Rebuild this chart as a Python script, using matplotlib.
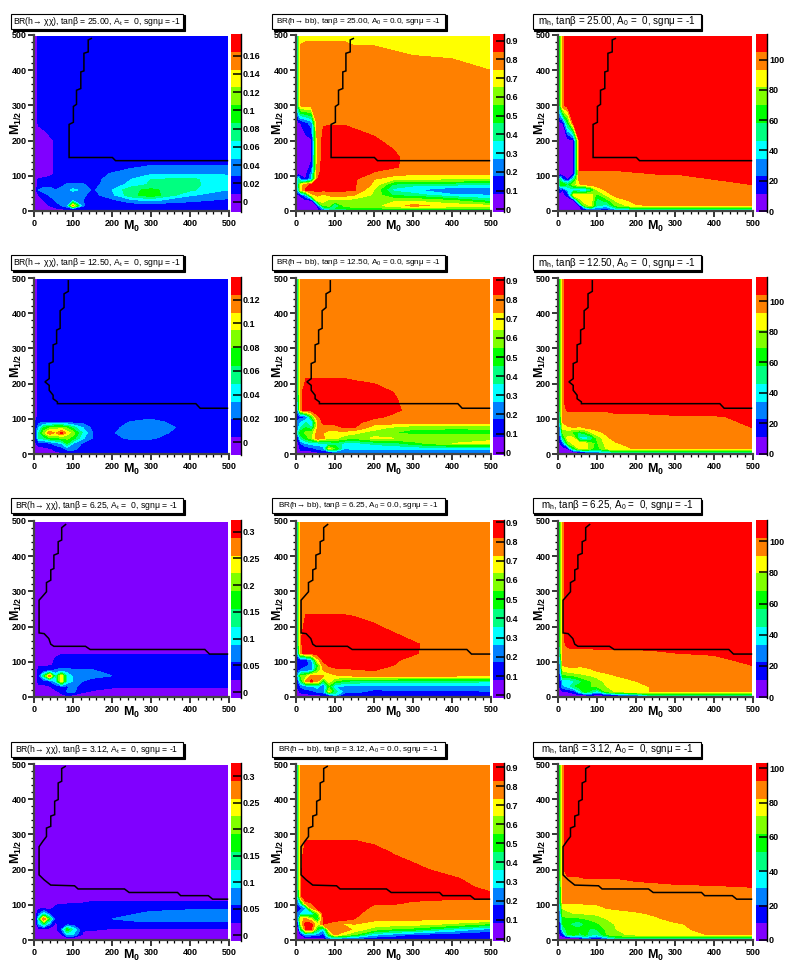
import matplotlib
matplotlib.use('Agg')
import matplotlib.pyplot as plt
from matplotlib.patches import Rectangle
import numpy as np

plt.rcParams['font.family'] = ['Liberation Sans', 'DejaVu Sans']
plt.rcParams['mathtext.fontset'] = 'custom'
plt.rcParams['mathtext.rm'] = 'Liberation Sans'
plt.rcParams['mathtext.it'] = 'Liberation Sans'
plt.rcParams['mathtext.bf'] = 'Liberation Sans:bold'

W, H = 789, 974

# grid the maps were read on (M0 across, M1/2 down, top row first)
m0 = [0, 6, 12, 25, 40, 55, 70, 85, 100, 125, 150, 200, 250, 300, 400, 497]
m12 = [497, 400, 300, 250, 200, 175, 150, 125, 105, 90, 75, 60, 45, 30, 15, 6, 0]

# map values as position on the colour scale, in tenths of a band (0-100)
chi_25 = [
    [5, 8, 13, 15, 15, 15, 15, 15, 15, 15, 15, 15, 15, 15, 15, 15],
    [5, 8, 13, 15, 15, 15, 15, 15, 15, 15, 15, 15, 15, 15, 15, 15],
    [5, 8, 13, 15, 15, 15, 15, 15, 15, 15, 15, 15, 15, 15, 15, 15],
    [5, 8, 11, 13, 15, 15, 15, 15, 15, 15, 15, 15, 15, 15, 15, 15],
    [5, 5, 5, 5, 8, 11, 15, 15, 15, 15, 15, 15, 15, 15, 15, 15],
    [5, 5, 5, 5, 8, 11, 15, 15, 15, 15, 15, 15, 15, 15, 15, 15],
    [5, 5, 5, 5, 8, 11, 15, 15, 15, 15, 15, 15, 15, 15, 15, 15],
    [5, 5, 5, 5, 8, 11, 15, 15, 15, 15, 15, 15, 19, 21, 21, 21],
    [5, 5, 5, 5, 8, 11, 15, 15, 15, 15, 15, 21, 24, 29, 30, 29],
    [5, 8, 11, 12, 12, 13, 15, 15, 15, 15, 17, 23, 30, 40, 42, 34],
    [5, 7, 12, 15, 17, 17, 18, 21, 22, 21, 17, 25, 33, 42, 43, 32],
    [5, 10, 20, 25, 23, 20, 22, 28, 32, 28, 18, 30, 48, 52, 42, 30],
    [5, 6, 10, 15, 21, 23, 24, 22, 24, 22, 16, 27, 47, 56, 31, 24],
    [5, 5, 8, 10, 13, 21, 24, 25, 30, 20, 14, 17, 26, 32, 22, 18],
    [5, 5, 5, 7, 10, 14, 20, 27, 82, 22, 13, 13, 13, 13, 14, 13],
    [5, 5, 5, 5, 6, 8, 10, 11, 12, 12, 12, 12, 12, 12, 12, 12],
    [5, 5, 5, 5, 5, 5, 5, 5, 5, 5, 5, 5, 5, 5, 5, 5],
]
bb_25 = [
    [12, 55, 79, 79, 79, 79, 79, 79, 79, 79, 78, 78, 77, 76, 76, 75],
    [12, 55, 83, 85, 85, 85, 85, 85, 85, 85, 85, 85, 84, 83, 82, 80],
    [12, 55, 82, 85, 85, 85, 85, 85, 85, 85, 85, 85, 85, 85, 85, 85],
    [5, 8, 10, 16, 25, 88, 89.5, 89.5, 89.5, 89.5, 89, 87, 86, 85, 85, 85],
    [5, 5, 5, 7, 8, 85, 92, 93, 93, 93, 92, 91, 88, 86, 85, 85],
    [5, 5, 5, 6, 8, 85, 93, 93, 94, 94, 94, 92, 90, 87, 85, 85],
    [5, 5, 5, 6, 9, 85, 93, 93, 94, 94, 94, 93, 91, 88, 85, 85],
    [5, 5, 5, 6, 12, 86, 93, 93, 94, 94, 93, 92, 91, 87, 84, 84],
    [5, 5, 5, 7, 25, 88, 93, 94, 94, 94, 93, 89, 84, 81, 81, 81],
    [10, 45, 20, 10, 30, 90, 94, 94, 94, 93, 91, 80, 72, 70, 69, 68],
    [10, 45, 75, 85, 92, 94, 94, 93, 90, 90, 91, 78, 48, 43, 42, 40],
    [8, 35, 75, 92, 93, 93, 93, 93, 92, 92, 91, 70, 37, 31, 20, 19],
    [5, 8, 12, 30, 75, 82, 77, 82, 86, 83, 80, 68, 48, 45, 32, 30],
    [5, 5, 5, 6, 9, 72, 75, 65, 68, 68, 65, 62, 68, 68, 60, 45],
    [5, 5, 5, 5, 6, 8, 62, 62, 32, 64, 65, 66, 75, 83, 76, 72],
    [5, 5, 5, 5, 5, 6, 30, 42, 50, 52, 54, 56, 58, 60, 60, 60],
    [5, 5, 5, 5, 5, 5, 6, 7, 8, 8, 8, 8, 8, 8, 8, 8],
]
mh_25 = [
    [30, 55, 88, 95, 95, 95, 95, 95, 95, 95, 95, 95, 95, 95, 95, 95],
    [30, 55, 88, 95, 95, 95, 95, 95, 95, 95, 95, 95, 95, 95, 95, 95],
    [30, 55, 88, 95, 95, 95, 95, 95, 95, 95, 95, 95, 95, 95, 95, 95],
    [5, 8, 9, 50, 93, 95, 95, 95, 95, 95, 95, 95, 95, 95, 95, 95],
    [5, 5, 5, 5, 7, 92, 95, 95, 95, 95, 95, 95, 95, 95, 95, 95],
    [5, 5, 5, 5, 7, 92, 95, 95, 95, 95, 95, 95, 95, 95, 95, 95],
    [5, 5, 5, 5, 7, 92, 95, 95, 95, 95, 95, 95, 95, 95, 95, 95],
    [5, 5, 5, 5, 7, 92, 92, 92, 92, 92, 92, 93, 93, 94, 95, 95],
    [5, 5, 5, 6, 8, 88, 88, 88, 88, 88, 88, 89, 90, 90, 92, 94],
    [8, 45, 20, 8, 40, 85, 87, 87, 87, 87, 87, 87, 87, 88, 90, 92],
    [8, 55, 60, 48, 65, 78, 83, 85, 86, 87, 87, 87, 87, 87, 88, 90],
    [8, 15, 10, 30, 35, 30, 25, 45, 70, 83, 86, 87, 87, 87, 87, 87],
    [5, 6, 8, 12, 74, 78, 78, 75, 55, 72, 85, 87, 87, 87, 87, 87],
    [5, 5, 5, 5, 8, 65, 76, 74, 45, 55, 72, 85, 87, 87, 87, 87],
    [5, 5, 5, 5, 6, 9, 65, 72, 40, 35, 62, 78, 81, 81, 81, 81],
    [5, 5, 5, 5, 5, 6, 20, 30, 22, 18, 35, 45, 48, 50, 50, 50],
    [5, 5, 5, 5, 5, 5, 5, 6, 8, 11, 12, 14, 15, 15, 15, 15],
]
chi_12 = [
    [5, 8, 14, 15, 15, 15, 15, 15, 15, 15, 15, 15, 15, 15, 15, 15],
    [5, 8, 14, 15, 15, 15, 15, 15, 15, 15, 15, 15, 15, 15, 15, 15],
    [5, 8, 14, 15, 15, 15, 15, 15, 15, 15, 15, 15, 15, 15, 15, 15],
    [5, 8, 14, 15, 15, 15, 15, 15, 15, 15, 15, 15, 15, 15, 15, 15],
    [5, 8, 14, 15, 15, 15, 15, 15, 15, 15, 15, 15, 15, 15, 15, 15],
    [5, 8, 14, 15, 15, 15, 15, 15, 15, 15, 15, 15, 15, 15, 15, 15],
    [5, 8, 14, 15, 15, 15, 15, 15, 15, 15, 15, 15, 15, 15, 15, 15],
    [5, 8, 14, 15, 15, 15, 15, 15, 15, 15, 15, 15, 15, 15, 15, 15],
    [5, 8, 14, 15, 15, 15, 15, 15, 15, 15, 15, 15, 15, 18, 15, 14],
    [8, 12, 18, 19, 19, 18, 18, 17, 16, 16, 15, 15, 21, 23, 15, 14],
    [6, 14, 30, 50, 58, 65, 65, 58, 45, 30, 17, 17, 24, 25, 17, 14],
    [7, 20, 40, 65, 88, 78, 93, 75, 65, 38, 20, 19, 25, 24, 15, 14],
    [6, 18, 40, 45, 55, 58, 60, 62, 55, 32, 20, 17, 22, 21, 14, 14],
    [5, 10, 13, 14, 18, 25, 30, 50, 30, 18, 15, 15, 15, 15, 14, 14],
    [5, 8, 8, 8, 9, 12, 15, 24, 25, 14, 14, 14, 14, 14, 14, 14],
    [5, 6, 7, 7, 8, 9, 11, 14, 15, 13, 13, 13, 13, 13, 13, 13],
    [5, 5, 5, 5, 5, 5, 5, 5, 5, 5, 5, 5, 5, 5, 5, 5],
]
bb_12 = [
    [12, 55, 82, 85, 85, 85, 85, 85, 85, 85, 85, 85, 85, 85, 85, 85],
    [12, 55, 82, 85, 85, 85, 85, 85, 85, 85, 85, 85, 85, 85, 85, 85],
    [12, 55, 82, 85, 85, 85, 85, 85, 85, 85, 85, 85, 85, 85, 85, 85],
    [12, 55, 82, 85, 85, 85, 85, 85, 85, 85, 85, 85, 85, 85, 85, 85],
    [12, 55, 82, 92, 92, 92, 92, 92, 92, 92, 91, 90, 87, 85, 85, 85],
    [12, 50, 88, 95, 95, 95, 95, 95, 95, 94, 94, 92, 90, 86, 85, 85],
    [12, 45, 88, 95, 95, 95, 95, 95, 95, 95, 95, 94, 91, 87, 84, 84],
    [12, 35, 88, 95, 95, 95, 95, 95, 95, 95, 94, 93, 92, 87, 84, 84],
    [11, 14, 16, 18, 55, 88, 93, 94, 94, 94, 94, 92, 88, 85, 84, 84],
    [12, 25, 30, 40, 30, 78, 93, 94, 94, 94, 93, 85, 85, 84, 83, 83],
    [12, 30, 40, 50, 38, 80, 84, 86, 85, 91, 90, 75, 68, 62, 62, 62],
    [8, 40, 55, 62, 65, 84, 80, 75, 77, 75, 72, 65, 60, 56, 54, 55],
    [6, 18, 42, 55, 65, 90, 82, 70, 72, 65, 62, 72, 70, 70, 70, 68],
    [5, 8, 20, 30, 35, 35, 38, 40, 45, 37, 36, 42, 45, 55, 70, 72],
    [5, 5, 12, 14, 15, 22, 25, 72, 60, 30, 32, 33, 32, 32, 32, 31],
    [5, 5, 7, 7, 8, 10, 15, 16, 25, 22, 22, 22, 22, 22, 22, 22],
    [5, 5, 5, 5, 5, 5, 7, 8, 10, 12, 12, 12, 12, 12, 12, 12],
]
mh_12 = [
    [30, 55, 88, 95, 95, 95, 95, 95, 95, 95, 95, 95, 95, 95, 95, 95],
    [30, 55, 88, 95, 95, 95, 95, 95, 95, 95, 95, 95, 95, 95, 95, 95],
    [30, 55, 88, 95, 95, 95, 95, 95, 95, 95, 95, 95, 95, 95, 95, 95],
    [30, 55, 88, 95, 95, 95, 95, 95, 95, 95, 95, 95, 95, 95, 95, 95],
    [30, 55, 88, 95, 95, 95, 95, 95, 95, 95, 95, 95, 95, 95, 95, 95],
    [30, 55, 88, 95, 95, 95, 95, 95, 95, 95, 95, 95, 95, 95, 95, 95],
    [30, 55, 88, 95, 95, 95, 95, 95, 95, 95, 95, 95, 95, 95, 95, 95],
    [30, 55, 87, 91, 91, 91, 91, 91, 91, 91, 92, 92, 93, 93, 94, 95],
    [25, 50, 85, 87, 87, 87, 87, 87, 87, 87, 88, 88, 88, 89, 89, 92],
    [20, 45, 80, 85, 86, 86, 86, 86, 86, 86, 86, 86, 86, 87, 88, 91],
    [15, 30, 75, 78, 80, 78, 82, 84, 85, 86, 86, 86, 86, 86, 87, 90],
    [12, 25, 60, 62, 55, 48, 55, 68, 76, 82, 86, 86, 86, 86, 87, 89],
    [10, 18, 45, 75, 72, 35, 30, 40, 62, 78, 84, 86, 86, 86, 86, 88],
    [8, 10, 15, 60, 75, 76, 74, 62, 58, 75, 79, 84, 85, 85, 85, 85],
    [5, 6, 7, 9, 50, 72, 74, 62, 55, 72, 76, 81, 82, 82, 82, 82],
    [5, 5, 5, 5, 8, 12, 20, 30, 30, 35, 48, 50, 50, 50, 50, 50],
    [5, 5, 5, 5, 5, 5, 8, 10, 12, 15, 20, 22, 25, 25, 25, 25],
]
chi_6 = [
    [5, 5, 5, 5, 5, 5, 5, 5, 5, 5, 5, 5, 5, 5, 5, 5],
    [5, 5, 5, 5, 5, 5, 5, 5, 5, 5, 5, 5, 5, 5, 5, 5],
    [5, 5, 5, 5, 5, 5, 5, 5, 5, 5, 5, 5, 5, 5, 5, 5],
    [5, 5, 5, 5, 5, 5, 5, 5, 5, 5, 5, 5, 5, 5, 5, 5],
    [5, 5, 5, 5, 5, 5, 5, 5, 5, 5, 5, 5, 5, 5, 5, 5],
    [5, 5, 5, 5, 5, 5, 5, 5, 5, 5, 5, 5, 5, 5, 5, 5],
    [5, 5, 5, 5, 5, 5, 5, 5, 5, 5, 5, 5, 5, 5, 5, 5],
    [5, 5, 5, 5, 5, 8, 9, 9, 9, 9, 9, 9, 9, 9, 9, 9],
    [5, 5, 5, 5, 7, 11, 14, 14, 14, 14, 14, 14, 14, 14, 14, 14],
    [5, 5, 8, 8, 9, 11, 14, 14, 14, 14, 14, 14, 14, 14, 14, 14],
    [5, 5, 15, 16, 18, 22, 25, 24, 22, 21, 21, 15, 14, 14, 14, 14],
    [5, 7, 17, 45, 90, 38, 75, 38, 28, 24, 24, 20, 14, 14, 14, 14],
    [5, 7, 14, 15, 19, 32, 78, 38, 30, 20, 15, 14, 14, 14, 14, 14],
    [5, 5, 7, 7, 9, 14, 18, 18, 24, 14, 13, 12, 11, 11, 11, 11],
    [5, 5, 5, 5, 5, 8, 11, 21, 23, 11, 9, 5, 5, 5, 5, 5],
    [5, 5, 5, 5, 5, 7, 9, 11, 10, 7, 5, 5, 5, 5, 5, 5],
    [5, 5, 5, 5, 5, 5, 5, 5, 5, 5, 5, 5, 5, 5, 5, 5],
]
bb_6 = [
    [12, 55, 82, 85, 85, 85, 85, 85, 85, 85, 85, 85, 85, 85, 85, 85],
    [12, 55, 82, 85, 85, 85, 85, 85, 85, 85, 85, 85, 85, 85, 85, 85],
    [12, 55, 82, 85, 85, 85, 85, 85, 85, 85, 85, 85, 85, 85, 85, 85],
    [12, 55, 83, 88, 88, 88, 88, 88, 88, 88, 87, 86, 85, 85, 85, 85],
    [12, 55, 85, 94, 94, 94, 94, 94, 94, 94, 94, 91, 88, 86, 85, 85],
    [12, 55, 88, 96, 96, 96, 96, 96, 96, 96, 96, 93, 91, 88, 85, 85],
    [12, 50, 88, 96, 96, 96, 96, 96, 96, 96, 96, 95, 93, 91, 85, 85],
    [12, 40, 87, 95, 95, 96, 96, 96, 96, 96, 96, 95, 93, 91, 84, 84],
    [8, 11, 13, 15, 30, 75, 92, 94, 95, 95, 95, 94, 91, 88, 84, 84],
    [10, 12, 14, 18, 22, 55, 86, 91, 92, 93, 93, 92, 90, 88, 84, 84],
    [12, 18, 22, 25, 28, 60, 80, 86, 88, 88, 89, 90, 90, 87, 84, 83],
    [12, 35, 60, 65, 85, 82, 80, 72, 78, 80, 81, 82, 82, 82, 81, 80],
    [8, 20, 45, 82, 92, 82, 50, 75, 60, 50, 48, 45, 45, 44, 43, 42],
    [8, 12, 22, 25, 28, 35, 16, 55, 30, 28, 27, 26, 27, 27, 28, 28],
    [5, 8, 12, 16, 17, 22, 24, 72, 45, 25, 24, 16, 18, 18, 18, 19],
    [5, 5, 6, 7, 8, 9, 12, 20, 35, 12, 11, 11, 11, 11, 11, 11],
    [5, 5, 5, 5, 5, 5, 6, 7, 7, 8, 8, 8, 8, 8, 8, 8],
]
mh_6 = [
    [30, 55, 88, 95, 95, 95, 95, 95, 95, 95, 95, 95, 95, 95, 95, 95],
    [30, 55, 88, 95, 95, 95, 95, 95, 95, 95, 95, 95, 95, 95, 95, 95],
    [30, 55, 88, 95, 95, 95, 95, 95, 95, 95, 95, 95, 95, 95, 95, 95],
    [30, 55, 88, 95, 95, 95, 95, 95, 95, 95, 95, 95, 95, 95, 95, 95],
    [30, 55, 88, 95, 95, 95, 95, 95, 95, 95, 95, 95, 95, 95, 95, 95],
    [30, 55, 88, 95, 95, 95, 95, 95, 95, 95, 95, 95, 95, 95, 95, 95],
    [30, 55, 88, 92, 93, 93, 93, 93, 93, 93, 93, 93, 93, 93, 94, 95],
    [28, 50, 87, 87, 87, 87, 87, 87, 88, 88, 88, 88, 89, 90, 91, 94],
    [20, 35, 85, 85, 85, 85, 85, 85, 85, 85, 85, 85, 85, 85, 88, 92],
    [15, 30, 80, 82, 82, 81, 82, 84, 85, 85, 85, 85, 85, 85, 86, 90],
    [12, 25, 70, 75, 78, 76, 77, 78, 81, 83, 85, 85, 85, 85, 85, 87],
    [10, 20, 55, 58, 60, 65, 68, 70, 72, 77, 80, 84, 85, 85, 85, 85],
    [10, 15, 32, 30, 38, 45, 55, 60, 67, 72, 76, 80, 84, 85, 85, 85],
    [8, 12, 28, 32, 48, 55, 60, 60, 62, 70, 74, 78, 81, 83, 85, 85],
    [5, 6, 8, 10, 13, 35, 58, 45, 32, 62, 72, 78, 81, 82, 82, 82],
    [5, 5, 5, 6, 7, 8, 10, 12, 8, 12, 20, 30, 50, 50, 50, 50],
    [5, 5, 5, 5, 5, 5, 5, 5, 5, 5, 5, 8, 10, 10, 10, 10],
]
chi_3 = [
    [5, 5, 5, 5, 5, 5, 5, 5, 5, 5, 5, 5, 5, 5, 5, 5],
    [5, 5, 5, 5, 5, 5, 5, 5, 5, 5, 5, 5, 5, 5, 5, 5],
    [5, 5, 5, 5, 5, 5, 5, 5, 5, 5, 5, 5, 5, 5, 5, 5],
    [5, 5, 5, 5, 5, 5, 5, 5, 5, 5, 5, 5, 5, 5, 5, 5],
    [5, 5, 5, 5, 5, 5, 5, 5, 5, 5, 5, 5, 5, 5, 5, 5],
    [5, 5, 5, 5, 5, 5, 5, 5, 5, 5, 5, 5, 5, 5, 5, 5],
    [5, 5, 5, 5, 5, 5, 5, 5, 5, 5, 5, 5, 5, 5, 5, 5],
    [5, 5, 5, 5, 5, 5, 5, 5, 6, 6, 6, 6, 6, 6, 6, 6],
    [5, 5, 5, 5, 5, 8, 9, 9, 10, 10, 11, 11, 11, 11, 11, 11],
    [5, 5, 8, 9, 7, 12, 14, 14, 14, 14, 14, 14, 15, 17, 18, 19],
    [5, 8, 18, 35, 18, 11, 14, 15, 15, 15, 15, 17, 19, 22, 25, 26],
    [5, 10, 40, 90, 50, 12, 11, 13, 14, 15, 16, 20, 23, 25, 27, 27],
    [5, 6, 28, 45, 22, 8, 13, 14, 14, 14, 14, 14, 15, 16, 15, 15],
    [5, 5, 5, 5, 5, 5, 20, 55, 40, 11, 11, 9, 9, 9, 9, 9],
    [5, 5, 5, 5, 5, 5, 8, 30, 30, 8, 5, 5, 5, 5, 5, 5],
    [5, 5, 5, 5, 5, 5, 5, 8, 8, 5, 5, 5, 5, 5, 5, 5],
    [5, 5, 5, 5, 5, 5, 5, 5, 5, 5, 5, 5, 5, 5, 5, 5],
]
bb_3 = [
    [12, 55, 82, 85, 85, 85, 85, 85, 85, 85, 85, 85, 85, 85, 85, 85],
    [12, 55, 82, 85, 85, 85, 85, 85, 85, 85, 85, 85, 85, 85, 85, 85],
    [12, 55, 83, 88, 88, 88, 88, 88, 88, 88, 88, 87, 85, 85, 85, 85],
    [12, 55, 86, 94, 94, 94, 94, 94, 94, 94, 94, 92, 89.5, 87, 85, 85],
    [12, 55, 88, 96, 95, 95, 95, 95, 95, 95, 95, 95, 93, 92, 87, 85],
    [12, 55, 88, 96, 96, 96, 96, 96, 96, 96, 96, 96, 96, 94, 91, 86],
    [12, 50, 88, 96, 96, 96, 96, 96, 96, 96, 96, 96, 96, 95, 93, 88],
    [12, 45, 88, 96, 96, 96, 96, 96, 96, 96, 96, 96, 95, 93, 92, 92],
    [8, 25, 40, 88, 90, 92, 93, 94, 95, 95, 94, 91, 91, 89, 88, 87],
    [10, 12, 15, 30, 80, 92, 94, 94, 94, 94, 94, 88, 87, 86, 86, 85],
    [8, 25, 30, 35, 30, 60, 92, 94, 95, 94, 92, 86, 85, 85, 85, 85],
    [8, 30, 78, 82, 70, 42, 92, 94, 95, 94, 90, 82, 82, 82, 81, 81],
    [6, 15, 70, 95, 92, 70, 90, 88, 84, 78, 80, 77, 75, 74, 68, 58],
    [5, 8, 45, 92, 92, 50, 30, 80, 88, 86, 77, 64, 58, 55, 38, 25],
    [5, 5, 10, 30, 28, 25, 15, 55, 82, 70, 60, 33, 25, 18, 14, 12],
    [5, 5, 5, 7, 8, 9, 8, 30, 35, 30, 25, 16, 14, 13, 12, 11],
    [5, 5, 5, 5, 5, 5, 5, 6, 7, 8, 8, 8, 8, 8, 8, 8],
]
mh_3 = [
    [30, 55, 88, 95, 95, 95, 95, 95, 95, 95, 95, 95, 95, 95, 95, 95],
    [30, 55, 88, 95, 95, 95, 95, 95, 95, 95, 95, 95, 95, 95, 95, 95],
    [30, 55, 88, 95, 95, 95, 95, 95, 95, 95, 95, 95, 95, 95, 95, 95],
    [30, 55, 88, 95, 95, 95, 95, 95, 95, 95, 95, 95, 95, 95, 95, 95],
    [30, 55, 88, 95, 95, 95, 95, 95, 95, 95, 95, 95, 95, 95, 95, 95],
    [30, 55, 88, 89, 89, 89, 90, 90, 90, 90, 90, 91, 92, 92, 94, 95],
    [28, 50, 85, 86, 86, 86, 86, 87, 87, 87, 87, 88, 88, 89, 89, 90],
    [25, 50, 85, 85, 85, 85, 85, 85, 85, 85, 85, 85, 85, 85, 85, 85],
    [20, 45, 80, 80, 81, 81, 81, 81, 81, 82, 83, 84, 85, 85, 85, 85],
    [12, 35, 70, 72, 73, 74, 76, 77, 78, 80, 81, 82, 83, 84, 85, 85],
    [10, 30, 65, 68, 70, 70, 71, 72, 72, 75, 77, 79, 81, 83, 85, 85],
    [9, 25, 55, 58, 58, 58, 60, 62, 65, 70, 73, 76, 79, 82, 84, 85],
    [8, 20, 50, 52, 45, 42, 52, 55, 58, 66, 71, 74, 77, 79, 83, 84],
    [8, 15, 40, 55, 55, 52, 53, 48, 50, 62, 70, 73, 76, 78, 83, 84],
    [6, 10, 14, 50, 55, 48, 53, 42, 40, 60, 68, 72, 74, 76, 81, 82],
    [5, 5, 6, 7, 8, 10, 30, 20, 12, 30, 45, 50, 50, 50, 50, 50],
    [5, 5, 5, 5, 5, 5, 5, 6, 8, 8, 14, 15, 20, 25, 25, 25],
]

# colour bar ranges, bottom and top of each bar
ranges = [
    (-0.0113, 0.1836), (-0.014, 0.935), (-0.66, 117),
    (-0.0106, 0.139), (-0.012, 0.918), (-0.9, 115.9),
    (-0.011, 0.3215), (-0.014, 0.912), (-0.6, 113.6),
    (-0.011, 0.325), (-0.012, 0.922), (-0.6, 103),
]
bar_ticks = [
    [0, 0.02, 0.04, 0.06, 0.08, 0.1, 0.12, 0.14, 0.16],
    [0, 0.1, 0.2, 0.3, 0.4, 0.5, 0.6, 0.7, 0.8, 0.9],
    [0, 20, 40, 60, 80, 100],
    [0, 0.02, 0.04, 0.06, 0.08, 0.1, 0.12],
    [0, 0.1, 0.2, 0.3, 0.4, 0.5, 0.6, 0.7, 0.8, 0.9],
    [0, 20, 40, 60, 80, 100],
    [0, 0.05, 0.1, 0.15, 0.2, 0.25, 0.3],
    [0, 0.1, 0.2, 0.3, 0.4, 0.5, 0.6, 0.7, 0.8, 0.9],
    [0, 20, 40, 60, 80, 100],
    [0, 0.05, 0.1, 0.15, 0.2, 0.25, 0.3],
    [0, 0.1, 0.2, 0.3, 0.4, 0.5, 0.6, 0.7, 0.8, 0.9],
    [0, 20, 40, 60, 80, 100],
]
maps = [chi_25, bb_25, mh_25, chi_12, bb_12, mh_12, chi_6, bb_6, mh_6, chi_3, bb_3, mh_3]

# the black exclusion line of each tan(beta) row
line_25 = [(147, 490), (139, 486), (139, 452), (128, 448), (128, 398), (120, 395), (120, 348), (109, 343),
           (109, 303), (101, 297), (101, 252), (90, 246), (90, 152), (201, 152), (209, 143), (496, 143)]
line_12 = [(88, 492), (88, 462), (77, 455), (77, 416), (67, 407), (67, 357), (58, 352), (58, 314), (49, 310),
           (49, 262), (39, 257), (39, 214), (28, 205), (39, 195), (39, 181), (49, 167), (49, 157), (60, 148),
           (60, 143), (415, 143), (426, 130), (496, 130)]
line_6 = [(81, 490), (71, 481), (71, 446), (62, 441), (62, 408), (51, 403), (51, 365), (43, 361), (43, 332),
          (32, 325), (32, 299), (21, 285), (13, 275), (13, 182), (26, 180), (38, 166), (43, 150), (51, 144),
          (132, 144), (144, 135), (438, 135), (450, 122), (496, 122)]
line_3 = [(80, 493), (71, 487), (71, 451), (62, 446), (62, 399), (53, 394), (53, 356), (43, 352), (43, 323),
          (32, 318), (32, 294), (23, 281), (13, 265), (13, 185), (26, 171), (43, 156), (104, 154), (113, 145),
          (232, 145), (244, 135), (368, 135), (376, 126), (447, 126), (458, 116), (496, 116)]
lines = [line_25, line_12, line_6, line_3]

tanb = ['25.00', '12.50', '6.25', '3.12']
colors = ['#8000ff', '#0000ff', '#0080ff', '#00ffff', '#00ff80',
          '#00ff00', '#80ff00', '#ffff00', '#ff8000', '#ff0000']


def tick_text(v):
    return f'{v:g}'


def box(px, py, pw, ph):
    # pixel rectangle to figure fractions
    return [px / W, 1 - (py + ph) / H, pw / W, ph / H]


fig = plt.figure(figsize=(W / 100, H / 100), dpi=100)

col_x = [34, 296, 558]
bar_x = [231, 493, 756]
bar_w = [10, 11, 11]
row_top = [35, 278, 521, 764]
box_x = [(11, 172), (272, 173), (533, 168)]
box_y = [14, 255, 498, 742]

for i, grid in enumerate(maps):
    row, col = divmod(i, 3)
    ax = fig.add_axes(box(col_x[col], row_top[row], 195, 176))
    vmin, vmax = ranges[i]
    levels = np.linspace(vmin, vmax, 11)
    z = np.interp(np.array(grid) / 10, np.arange(11), levels)
    cf = ax.contourf(m0, m12, z, levels=levels, colors=colors)
    path = np.array(lines[row])
    ax.plot(path[:, 0], path[:, 1], color='black', lw=1.1, solid_joinstyle='miter')

    ax.set_xlim(0, 500)
    ax.set_ylim(0, 500)
    ax.set_xticks(np.arange(0, 501, 100))
    ax.set_yticks(np.arange(0, 501, 100))
    ax.set_xticks(np.arange(0, 501, 20), minor=True)
    ax.set_yticks(np.arange(0, 501, 20), minor=True)
    ax.tick_params(which='major', length=4, width=1.1, labelsize=6.5, pad=1.5)
    ax.tick_params(which='minor', length=2, width=0.9)
    ax.spines['top'].set_visible(False)
    ax.spines['right'].set_visible(False)
    ax.spines['left'].set_linewidth(1.6)
    ax.spines['bottom'].set_linewidth(1.6)
    ax.spines['left'].set_color('#444444')
    ax.spines['bottom'].set_color('#444444')
    for t in ax.get_xticklabels() + ax.get_yticklabels():
        t.set_fontweight('bold')

    ax.text(0.5, -0.088, r'$\mathbf{M_{0}}$', transform=ax.transAxes, ha='center', va='center', fontsize=9)
    ax.text(-0.092, 0.5, r'$\mathbf{M_{1/2}}$', transform=ax.transAxes, ha='center', va='center',
            fontsize=9, rotation=90)

    cax = fig.add_axes(box(bar_x[col], row_top[row] - 1, bar_w[col], 178))
    cb = fig.colorbar(cf, cax=cax, ticks=bar_ticks[i])
    cb.outline.set_visible(False)
    cax.spines['right'].set_visible(True)
    cax.spines['right'].set_linewidth(1.0)
    cax.minorticks_off()
    cax.tick_params(axis='y', direction='in', length=6, width=1.1, labelsize=6.5, pad=1.5)
    cax.set_yticklabels([tick_text(v) for v in bar_ticks[i]])
    for t in cax.get_yticklabels():
        t.set_fontweight('bold')

    # title box with a small drop shadow
    bx, bw = box_x[col]
    by = box_y[row]
    l, b, w, h = box(bx, by, bw, 15)
    fig.add_artist(Rectangle((l + 1.5 / W, b - 1.5 / H), w, h, transform=fig.transFigure,
                             facecolor='black', edgecolor='black', lw=0.8))
    fig.add_artist(Rectangle((l, b), w, h, transform=fig.transFigure,
                             facecolor='white', edgecolor='black', lw=0.8))
    if col == 0:
        title = 'BR(h\u2192 \u03c7\u03c7), tan\u03b2 = ' + tanb[row] + ', A$_{t}$ =  0, sgn\u03bc = -1'
        size = 6.2
    elif col == 1:
        title = 'BR(h\u2192 bb), tan\u03b2 = ' + tanb[row] + ', A$_{0}$ = 0.0, sgn\u03bc = -1'
        size = 5.9
    else:
        title = 'm$_{h}$, tan\u03b2 = ' + tanb[row] + ', A$_{0}$ =  0, sgn\u03bc = -1'
        size = 7.1
    fig.text(l + w / 2, b + h / 2, title, ha='center', va='center', fontsize=size)

fig.savefig('out.png', dpi=100)
